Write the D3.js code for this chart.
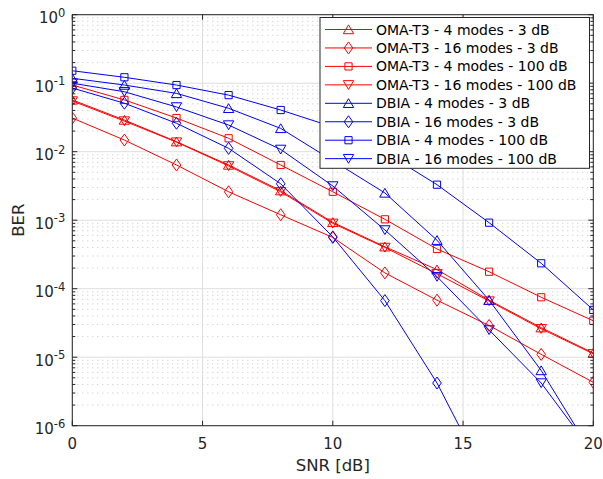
<!DOCTYPE html>
<html>
<head>
<meta charset="utf-8">
<script src="https://cdn.jsdelivr.net/npm/d3@7"></script>
<style>
body { margin: 0; background: #fff; }
svg { display: block; font-family: "DejaVu Sans", sans-serif; }
</style>
</head>
<body>
<svg id="chart"></svg>
<script>
const snr = [0, 2, 4, 6, 8, 10, 12, 14, 16, 18, 20]

// BER values
const omaT3_4m_3dB = [5.7e-2, 2.9e-2, 1.4e-2, 6.4e-3, 2.7e-3, 9.3e-4, 4.1e-4, 1.9e-4, 6.8e-5, 2.7e-5, 1.15e-5]
const omaT3_16m_3dB = [3.1e-2, 1.48e-2, 6.4e-3, 2.6e-3, 1.2e-3, 5.6e-4, 1.7e-4, 6.8e-5, 2.9e-5, 1.1e-5, 4.3e-6]
const omaT3_4m_100dB = [9.4e-2, 5.7e-2, 3.1e-2, 1.57e-2, 6.4e-3, 2.6e-3, 1.03e-3, 3.8e-4, 1.77e-4, 7.5e-5, 3.4e-5]
const omaT3_16m_100dB = [5.5e-2, 2.8e-2, 1.38e-2, 6.2e-3, 2.6e-3, 9.0e-4, 4.0e-4, 1.65e-4, 6.6e-5, 2.6e-5, 1.12e-5]
const dbia_4m_3dB = [1.18e-1, 9.4e-2, 7.1e-2, 4.3e-2, 2.19e-2, 7.4e-3, 2.5e-3, 5.1e-4, 6.8e-5, 6.4e-6, 3.7e-7]
const dbia_16m_3dB = [8.5e-2, 5.1e-2, 2.6e-2, 1.12e-2, 3.4e-3, 5.7e-4, 6.7e-5, 4.2e-6, 1.4e-7, null, null]
const dbia_4m_100dB = [1.52e-1, 1.22e-1, 9.4e-2, 6.7e-2, 4.06e-2, 2.3e-2, 9.8e-3, 3.3e-3, 9.2e-4, 2.35e-4, 4.9e-5]
const dbia_16m_100dB = [1.0e-1, 7.5e-2, 4.5e-2, 2.45e-2, 1.08e-2, 3.16e-3, 7.2e-4, 1.5e-4, 2.5e-5, 4.2e-6, 4.0e-7]

const legendLabels = [
    'OMA-T3 - 4 modes - 3 dB',
    'OMA-T3 - 16 modes - 3 dB',
    'OMA-T3 - 4 modes - 100 dB',
    'OMA-T3 - 16 modes - 100 dB',
    'DBIA - 4 modes - 3 dB',
    'DBIA - 16 modes - 3 dB',
    'DBIA - 4 modes - 100 dB',
    'DBIA - 16 modes - 100 dB'
]

const xTicks = [0, 5, 10, 15, 20]
const yExponents = [0, -1, -2, -3, -4, -5, -6]

const width = 603
const height = 479
const plot = { left: 72.3, right: 593.3, top: 14.7, bottom: 425.7 }

const RED = '#ff0000'
const BLUE = '#0000ff'
const AXIS = '#262626'

const series = [
    { label: legendLabels[0], values: omaT3_4m_3dB, color: RED, symbol: 'up' },
    { label: legendLabels[1], values: omaT3_16m_3dB, color: RED, symbol: 'diamond' },
    { label: legendLabels[2], values: omaT3_4m_100dB, color: RED, symbol: 'square' },
    { label: legendLabels[3], values: omaT3_16m_100dB, color: RED, symbol: 'down' },
    { label: legendLabels[4], values: dbia_4m_3dB, color: BLUE, symbol: 'up' },
    { label: legendLabels[5], values: dbia_16m_3dB, color: BLUE, symbol: 'diamond' },
    { label: legendLabels[6], values: dbia_4m_100dB, color: BLUE, symbol: 'square' },
    { label: legendLabels[7], values: dbia_16m_100dB, color: BLUE, symbol: 'down' }
]

function markerPath(symbol) {
    if (symbol === 'up') return 'M0,-4.6L5.2,4.2L-5.2,4.2Z'
    if (symbol === 'down') return 'M0,4.6L5.2,-4.2L-5.2,-4.2Z'
    if (symbol === 'diamond') return 'M0,-6L4.3,0L0,6L-4.3,0Z'
    return 'M-3.6,-3.6H3.6V3.6H-3.6Z'
}

const svg = d3.select('#chart')
    .attr('width', width)
    .attr('height', height)

const x = d3.scaleLinear().domain([0, 20]).range([plot.left, plot.right])
const y = d3.scaleLog().domain([1e-6, 1]).range([plot.bottom, plot.top])

const yMajor = yExponents.map(e => Math.pow(10, e))
const yMinor = []
for (let e = -6; e < 0; e++) {
    for (let m = 2; m <= 9; m++) yMinor.push(m * Math.pow(10, e))
}

// grid
const grid = svg.append('g')
grid.selectAll('.minor-grid')
    .data(yMinor)
    .enter().append('line')
    .attr('x1', plot.left).attr('x2', plot.right)
    .attr('y1', d => y(d)).attr('y2', d => y(d))
    .attr('stroke', '#c4c4c4')
    .attr('stroke-width', 1)
    .attr('stroke-dasharray', '1,4')

grid.selectAll('.major-grid-y')
    .data(yMajor)
    .enter().append('line')
    .attr('x1', plot.left).attr('x2', plot.right)
    .attr('y1', d => y(d)).attr('y2', d => y(d))
    .attr('stroke', '#dedede')
    .attr('stroke-width', 1)

grid.selectAll('.major-grid-x')
    .data(xTicks)
    .enter().append('line')
    .attr('x1', d => x(d)).attr('x2', d => x(d))
    .attr('y1', plot.top).attr('y2', plot.bottom)
    .attr('stroke', '#dedede')
    .attr('stroke-width', 1)

// data
svg.append('clipPath').attr('id', 'clip')
    .append('rect')
    .attr('x', plot.left).attr('y', plot.top)
    .attr('width', plot.right - plot.left)
    .attr('height', plot.bottom - plot.top)

const dataLayer = svg.append('g').attr('clip-path', 'url(#clip)')

const line = d3.line()
    .defined(d => d[1] !== null)
    .x(d => x(d[0]))
    .y(d => y(d[1]))

series.forEach(s => {
    const points = snr.map((v, i) => [v, s.values[i]])
    const g = dataLayer.append('g')
    g.append('path')
        .attr('d', line(points))
        .attr('fill', 'none')
        .attr('stroke', s.color)
        .attr('stroke-width', 1)

    g.selectAll('path.marker')
        .data(points.filter(d => d[1] !== null))
        .enter().append('path')
        .attr('class', 'marker')
        .attr('transform', d => `translate(${x(d[0])},${y(d[1])})`)
        .attr('d', markerPath(s.symbol))
        .attr('fill', 'none')
        .attr('stroke', s.color)
        .attr('stroke-width', 1)
})

// axes box and ticks
const axes = svg.append('g')
    .attr('stroke', AXIS)
    .attr('stroke-width', 1)

axes.append('rect')
    .attr('x', plot.left).attr('y', plot.top)
    .attr('width', plot.right - plot.left)
    .attr('height', plot.bottom - plot.top)
    .attr('fill', 'none')

xTicks.forEach(t => {
    axes.append('line')
        .attr('x1', x(t)).attr('x2', x(t))
        .attr('y1', plot.bottom).attr('y2', plot.bottom - 5)
    axes.append('line')
        .attr('x1', x(t)).attr('x2', x(t))
        .attr('y1', plot.top).attr('y2', plot.top + 5)
})

yMajor.forEach(t => {
    axes.append('line')
        .attr('x1', plot.left).attr('x2', plot.left + 5)
        .attr('y1', y(t)).attr('y2', y(t))
    axes.append('line')
        .attr('x1', plot.right).attr('x2', plot.right - 5)
        .attr('y1', y(t)).attr('y2', y(t))
})

yMinor.forEach(t => {
    axes.append('line')
        .attr('x1', plot.left).attr('x2', plot.left + 3)
        .attr('y1', y(t)).attr('y2', y(t))
    axes.append('line')
        .attr('x1', plot.right).attr('x2', plot.right - 3)
        .attr('y1', y(t)).attr('y2', y(t))
})

// tick labels
svg.selectAll('.x-label')
    .data(xTicks)
    .enter().append('text')
    .attr('x', d => x(d))
    .attr('y', plot.bottom + 23)
    .attr('text-anchor', 'middle')
    .attr('font-size', 15)
    .attr('fill', AXIS)
    .text(d => d)

yExponents.forEach(e => {
    const t = svg.append('text')
        .attr('x', plot.left - 7)
        .attr('y', y(Math.pow(10, e)) + 8.5)
        .attr('text-anchor', 'end')
        .attr('font-size', 15)
        .attr('fill', AXIS)
    t.append('tspan').text('10')
    t.append('tspan')
        .attr('dy', -6.5)
        .attr('font-size', 11.5)
        .text(e === 0 ? '0' : '-' + Math.abs(e))
})

svg.append('text')
    .attr('x', (plot.left + plot.right) / 2)
    .attr('y', 471)
    .attr('text-anchor', 'middle')
    .attr('font-size', 16.5)
    .attr('fill', AXIS)
    .text('SNR [dB]')

svg.append('text')
    .attr('transform', `translate(24,${(plot.top + plot.bottom) / 2}) rotate(-90)`)
    .attr('text-anchor', 'middle')
    .attr('font-size', 16.5)
    .attr('fill', AXIS)
    .text('BER')

// legend
const legend = svg.append('g')
legend.append('rect')
    .attr('x', 320).attr('y', 17.5)
    .attr('width', 269.5).attr('height', 150.8)
    .attr('fill', '#fff')
    .attr('stroke', AXIS)
    .attr('stroke-width', 1)

const rows = legend.selectAll('.legend-row')
    .data(series)
    .enter().append('g')
    .attr('transform', (d, i) => `translate(0,${29.5 + i * 18.45})`)

rows.append('line')
    .attr('x1', 325).attr('x2', 372)
    .attr('stroke', d => d.color)
    .attr('stroke-width', 1)

rows.append('path')
    .attr('transform', 'translate(348.5,0)')
    .attr('d', d => markerPath(d.symbol))
    .attr('fill', 'none')
    .attr('stroke', d => d.color)

rows.append('text')
    .attr('x', 376)
    .attr('dy', '0.36em')
    .attr('font-size', 14)
    .attr('fill', '#000')
    .text(d => d.label)
</script>
</body>
</html>
